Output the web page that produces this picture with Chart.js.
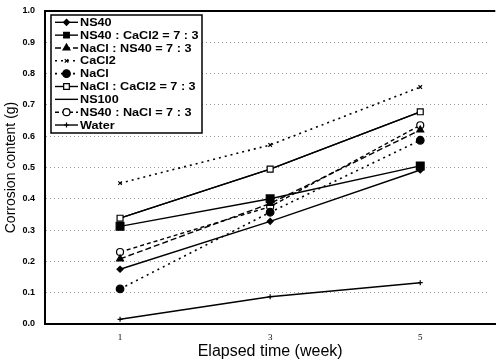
<!DOCTYPE html>
<html>
<head>
<meta charset="utf-8">
<script src="https://cdn.jsdelivr.net/npm/chart.js@4/dist/chart.umd.min.js"></script>
<style>
  html, body { margin: 0; padding: 0; background: #fff; overflow: hidden; }
  canvas { display: block; }
</style>
</head>
<body>
<canvas id="corrosion" width="502" height="361"></canvas>
<script>
// weeks of exposure and corrosion weight (g) for each de-icer
var weeks = [1, 3, 5];
var yTicks = [0, 0.1, 0.2, 0.3, 0.4, 0.5, 0.6, 0.7, 0.8, 0.9, 1.0];

var ns40 = [0.175, 0.328, 0.492];
var ns40CaCl2 = [0.312, 0.400, 0.505];
var naclNs40 = [0.208, 0.385, 0.620];
var cacl2 = [0.450, 0.572, 0.757];
var nacl = [0.112, 0.357, 0.587];
var naclCaCl2 = [0.338, 0.495, 0.678];
var ns100 = [0.338, 0.495, 0.678];
var ns40NaCl = [0.230, 0.375, 0.635];
var water = [0.015, 0.087, 0.132];

var FONT = '"Liberation Sans", Arial, sans-serif';

function points(values) {
  return weeks.map(function(w, i) { return {x: w, y: values[i]}; });
}

function series(label, values, style) {
  return Object.assign({
    label: label,
    data: points(values),
    borderColor: "#000",
    borderWidth: 1.4,
    pointBorderColor: "#000",
    pointBackgroundColor: "#000",
    pointBorderWidth: 1.2,
    pointStyle: "circle",
    pointRadius: 0,
    borderDash: []
  }, style);
}

var datasets = [
  series("NS40", ns40, {pointStyle: "rectRot", pointRadius: 3}),
  series("NS40 : CaCl2 = 7 : 3", ns40CaCl2, {pointStyle: "rect", pointRadius: 5.5}),
  series("NaCl : NS40 = 7 : 3", naclNs40, {pointStyle: "triangle", pointRadius: 4, borderDash: [6, 3]}),
  series("CaCl2", cacl2, {pointStyle: "crossRot", pointRadius: 2.5, borderDash: [2, 4], borderWidth: 1.6}),
  series("NaCl", nacl, {pointStyle: "circle", pointRadius: 3.8, borderDash: [2, 4], borderWidth: 1.6}),
  series("NaCl : CaCl2 = 7 : 3", naclCaCl2, {pointStyle: "rect", pointRadius: 4.2, pointBackgroundColor: "#fff"}),
  series("NS100", ns100, {}),
  series("NS40 : NaCl = 7 : 3", ns40NaCl, {pointStyle: "circle", pointRadius: 3.5, pointBackgroundColor: "#fff", borderDash: [4, 3]}),
  series("Water", water, {pointStyle: "cross", pointRadius: 2.5})
];

// boxed legend sitting in the upper left corner of the plot, line sample + marker
var boxLegend = {
  id: "boxLegend",
  afterDraw: function(chart) {
    var ctx = chart.ctx, area = chart.chartArea;
    var sets = chart.data.datasets;
    var left = area.left + 6, top = area.top + 4;
    var rowH = 12.84, width = 151, height = 118;

    ctx.save();
    // plot is open on the right: keep that edge clear
    ctx.fillStyle = "#fff";
    ctx.fillRect(area.right - 6, area.top + 1.5, chart.width - area.right + 6, area.bottom - area.top - 3);

    // top frame line
    ctx.strokeStyle = "#000";
    ctx.lineWidth = 2;
    ctx.beginPath();
    ctx.moveTo(area.left, area.top);
    ctx.lineTo(area.right, area.top);
    ctx.stroke();

    ctx.fillStyle = "#fff";
    ctx.fillRect(left, top, width, height);
    ctx.lineWidth = 1.5;
    ctx.strokeRect(left, top, width, height);

    ctx.font = "bold 11px " + FONT;
    ctx.textBaseline = "middle";
    sets.forEach(function(ds, i) {
      var y = top + 7.3 + i * rowH;
      ctx.strokeStyle = "#000";
      ctx.lineWidth = ds.borderWidth;
      ctx.setLineDash(ds.borderDash || []);
      ctx.beginPath();
      ctx.moveTo(left + 4, y);
      ctx.lineTo(left + 27, y);
      ctx.stroke();
      ctx.setLineDash([]);
      if (ds.pointRadius > 0) {
        ctx.fillStyle = ds.pointBackgroundColor;
        ctx.lineWidth = ds.pointBorderWidth;
        Chart.helpers.drawPoint(ctx, {
          pointStyle: ds.pointStyle,
          radius: Math.min(ds.pointRadius, 4),
          borderWidth: ds.pointBorderWidth,
          rotation: 0
        }, left + 15.5, y);
      }
      // the printed labels run wide, so stretch them a little
      ctx.save();
      ctx.translate(left + 29, y + 0.5);
      ctx.scale(1.15, 1);
      ctx.fillStyle = "#000";
      ctx.fillText(ds.label, 0, 0);
      ctx.restore();
    });
    ctx.restore();
  }
};

new Chart(document.getElementById("corrosion"), {
  type: "line",
  data: {datasets: datasets},
  plugins: [boxLegend],
  options: {
    responsive: false,
    animation: false,
    layout: {padding: {left: 0, top: 11, right: 0, bottom: 0}},
    plugins: {legend: {display: false}, tooltip: {enabled: false}},
    elements: {line: {tension: 0}},
    scales: {
      x: {
        type: "linear",
        min: 0,
        max: 6,
        afterBuildTicks: function(scale) {
          scale.ticks = weeks.map(function(w) { return {value: w}; });
        },
        afterFit: function(scale) {
          scale.height = 37;
          scale.paddingLeft = 0;
          scale.paddingRight = 0;
        },
        grid: {display: false, drawTicks: false},
        border: {display: true, color: "#000", width: 2},
        ticks: {
          padding: 8,
          color: "#000",
          font: {family: '"Liberation Serif", serif', size: 9}
        },
        title: {
          display: true,
          text: "Elapsed time (week)",
          color: "#000",
          font: {family: FONT, size: 16},
          padding: {top: 0, bottom: 0}
        }
      },
      y: {
        min: 0,
        max: 1,
        afterBuildTicks: function(scale) {
          scale.ticks = yTicks.map(function(v) { return {value: v}; });
        },
        afterFit: function(scale) {
          scale.width = 45;
          scale.paddingTop = 0;
          scale.paddingBottom = 0;
        },
        grid: {color: "#9a9a9a", lineWidth: 1, drawTicks: false},
        border: {display: true, color: "#000", width: 2, dash: [1, 3]},
        ticks: {
          padding: 10,
          color: "#000",
          font: {family: FONT, size: 9, weight: "bold"},
          callback: function(v) { return Number(v).toFixed(1); }
        },
        title: {
          display: true,
          text: "Corrosion content (g)",
          color: "#000",
          font: {family: FONT, size: 14},
          padding: {top: 3, bottom: 0}
        }
      }
    }
  }
});
</script>
</body>
</html>
